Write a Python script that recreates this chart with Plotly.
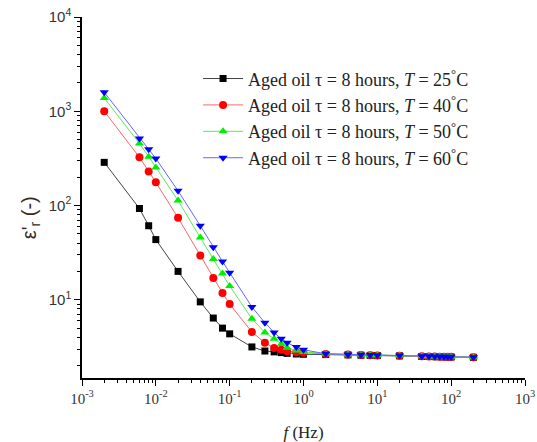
import plotly.graph_objects as go

freq = [0.002, 0.006, 0.008, 0.01, 0.02, 0.04, 0.06, 0.08, 0.1, 0.2, 0.3, 0.4, 0.5, 0.6, 0.8,
        1, 2, 4, 6, 8, 10, 20, 40, 50, 60, 70, 80, 90, 100, 200]

eps_25 = [287, 93, 61, 43.5, 20, 9.5, 6.4, 5.0, 4.35, 3.16, 2.86, 2.8, 2.75, 2.7, 2.66,
          2.64, 2.62, 2.6, 2.58, 2.57, 2.56, 2.54, 2.5, 2.5, 2.49, 2.49, 2.48, 2.48, 2.47, 2.45]
eps_40 = [1000, 325, 230, 176, 74, 29.4, 17, 11.8, 9.0, 4.55, 3.5, 3.08, 2.95, 2.85, 2.78,
          2.74, 2.66, 2.62, 2.6, 2.58, 2.57, 2.55, 2.51, 2.5, 2.5, 2.49, 2.49, 2.48, 2.48, 2.46]
eps_50 = [1380, 455, 330, 253, 113, 45.7, 27, 19, 14, 6.3, 4.5, 3.85, 3.4, 3.1, 2.9,
          2.8, 2.68, 2.63, 2.61, 2.59, 2.58, 2.56, 2.52, 2.51, 2.5, 2.5, 2.49, 2.49, 2.48, 2.46]
eps_60 = [1590, 515, 395, 315, 143, 61, 36, 25.5, 19.4, 8.4, 5.7, 4.5, 3.85, 3.5, 3.15,
          2.95, 2.67, 2.63, 2.61, 2.6, 2.58, 2.56, 2.52, 2.51, 2.5, 2.5, 2.49, 2.49, 2.48, 2.46]

labels = ["Aged oil \u03c4 = 8 hours, <i>T</i> = 25<sup>\u00b0</sup>C",
          "Aged oil \u03c4 = 8 hours, <i>T</i> = 40<sup>\u00b0</sup>C",
          "Aged oil \u03c4 = 8 hours, <i>T</i> = 50<sup>\u00b0</sup>C",
          "Aged oil \u03c4 = 8 hours, <i>T</i> = 60<sup>\u00b0</sup>C"]
series = [eps_25, eps_40, eps_50, eps_60]
colors = ["#000000", "#ff0000", "#00ee00", "#0000ff"]
symbols = ["square", "circle", "triangle-up", "triangle-down"]
line_colors = ["#444444", "#ff6666", "#55ee55", "#6666ff"]

x_major = [0.001, 0.01, 0.1, 1, 10, 100, 1000]
x_major_text = ["10<sup>-3</sup>", "10<sup>-2</sup>", "10<sup>-1</sup>", "10<sup>0</sup>",
                "10<sup>1</sup>", "10<sup>2</sup>", "10<sup>3</sup>"]
y_major = [10, 100, 1000, 10000]
y_major_text = ["10<sup>1</sup>", "10<sup>2</sup>", "10<sup>3</sup>", "10<sup>4</sup>"]
y_title = "\u03b5'<sub>r</sub> (-)"
x_title = "<i>f</i> (Hz)"

x_minor = [k * 10.0 ** d for d in range(-3, 3) for k in range(2, 10)]
y_minor = [k * 10.0 ** d for d in range(0, 4) for k in range(2, 10) if k * 10.0 ** d > 1.48]

fig = go.Figure()
for i, (lab, ys) in enumerate(zip(labels, series)):
    fig.add_trace(go.Scatter(
        x=freq, y=ys, name=lab, mode="lines+markers",
        line=dict(color=line_colors[i], width=1),
        marker=dict(color=colors[i], symbol=symbols[i], size=8 if i else 7),
        legendgroup=str(i),
    ))

tick_font_x = dict(family="Liberation Serif", size=15, color="#333333")
tick_font_y = dict(family="Liberation Sans", size=15, color="#333333")

fig.update_layout(
    width=537, height=442,
    margin=dict(l=82, r=12, t=17, b=64, autoexpand=False),
    paper_bgcolor="white", plot_bgcolor="white",
    showlegend=True,
    legend=dict(x=0.262, y=0.88, xanchor="left", yanchor="top",
                font=dict(family="Liberation Serif", size=18, color="#222222"),
                itemwidth=40,
                bgcolor="rgba(0,0,0,0)", tracegroupgap=0, traceorder="grouped"),
    xaxis=dict(type="log", range=[-3, 3], showline=True, linecolor="black", linewidth=1.5,
               ticks="outside", ticklen=6, tickwidth=1.2, tickcolor="black",
               showgrid=False, zeroline=False, mirror=False, automargin=False,
               tickvals=x_major, ticktext=x_major_text, tickfont=tick_font_x,
               minor=dict(ticks="outside", ticklen=3, tickwidth=1, tickcolor="black",
                          showgrid=False, tickvals=x_minor),
               title=dict(text=x_title, font=dict(family="Liberation Serif", size=17, color="#222222"),
                          standoff=20)),
    yaxis=dict(type="log", range=[0.17, 4], showline=True, linecolor="black", linewidth=1.5,
               ticks="outside", ticklen=6, tickwidth=1.2, tickcolor="black",
               showgrid=False, zeroline=False, mirror=False, automargin=False,
               tickvals=y_major, ticktext=y_major_text, tickfont=tick_font_y,
               minor=dict(ticks="outside", ticklen=3, tickwidth=1, tickcolor="black",
                          showgrid=False, tickvals=y_minor)),
    annotations=[dict(text=y_title, textangle=-90, xref="paper", yref="paper",
                      x=-0.117, y=0.443, xanchor="center", yanchor="middle", showarrow=False,
                      font=dict(family="Liberation Sans", size=20, color="#3a2a1a"))],
)

fig.write_html("out.html")
